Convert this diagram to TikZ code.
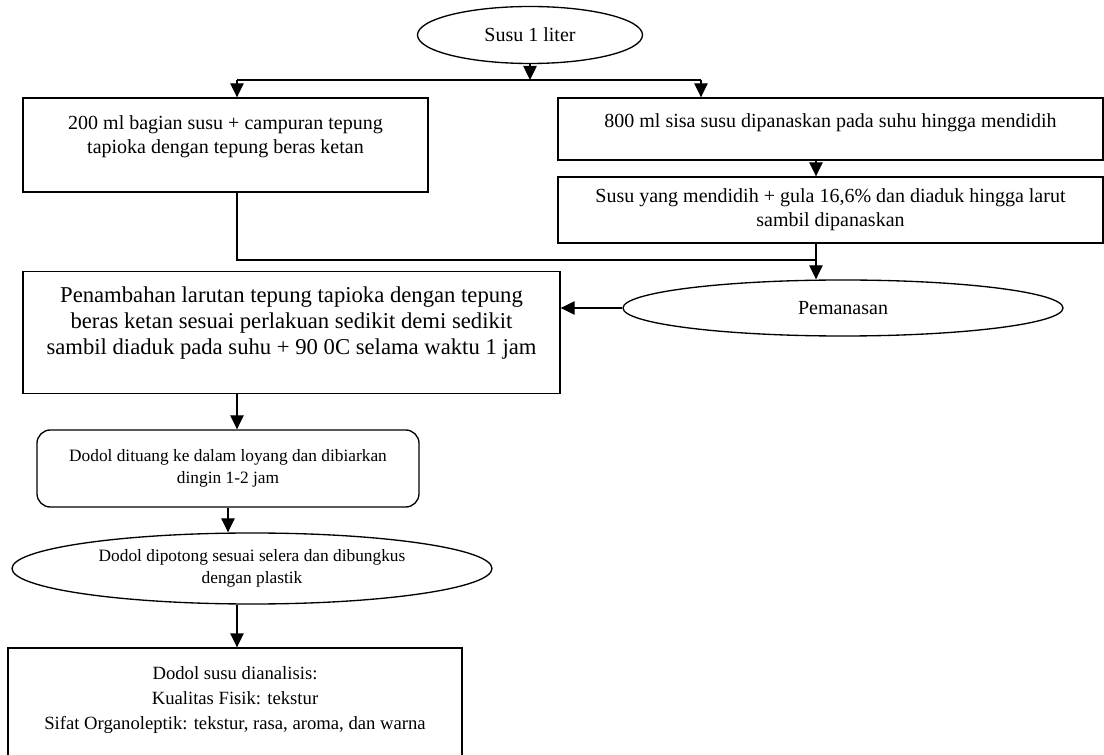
\documentclass[tikz,border=0pt]{standalone}
\usepackage{fontspec}
\setmainfont{Liberation Serif}
\usetikzlibrary{arrows.meta, shapes.geometric}

\begin{document}
\begin{tikzpicture}[x=0.75pt, y=-0.75pt, line width=1pt,
  every node/.style={font=\fontsize{15}{18}\selectfont, align=center, inner sep=0pt},
  box/.style={draw, rectangle},
  oval/.style={draw, ellipse},
  arr/.style={-{Triangle[width=10pt, length=10.5pt]}}]
  \useasboundingbox (0,0) rectangle (1104,755);
  \node[oval, minimum width=168.75pt, minimum height=42.75pt] (susu) at (530,35) {Susu 1 liter};
  \node[box, minimum width=303.75pt, minimum height=70.5pt] (kiri) at (225.5,145) {200 ml bagian susu + campuran tepung\\tapioka dengan tepung beras ketan\\[-2pt]\mbox{}};
  \node[box, minimum width=408.75pt, minimum height=46.5pt] (panas) at (830.5,129) {800 ml sisa susu dipanaskan pada suhu hingga mendidih\\[-6pt]\mbox{}};
  \node[box, minimum width=408.75pt, minimum height=49.5pt] (gula) at (830.5,210) {Susu yang mendidih + gula 16,6\% dan diaduk hingga larut\\sambil dipanaskan};
  \node[oval, minimum width=330pt, minimum height=42pt] (pemanasan) at (843,308) {Pemanasan};
  \node[box, minimum width=402.75pt, minimum height=91.5pt, font=\fontsize{17}{19.5}\selectfont] (tambah) at (291.5,332.5) {Penambahan larutan tepung tapioka dengan tepung\\beras ketan sesuai perlakuan sedikit demi sedikit\\sambil diaduk pada suhu + 90 0C selama waktu 1 jam\\[-2pt]\mbox{}};
  \node[box, rounded corners=10pt, minimum width=286.5pt, minimum height=57.75pt, font=\fontsize{13}{16.5}\selectfont] (tuang) at (228,468.5) {Dodol dituang ke dalam loyang dan dibiarkan\\dingin 1-2 jam};
  \node[oval, minimum width=360pt, minimum height=53.25pt, font=\fontsize{13}{17}\selectfont] (potong) at (252,568.5) {Dodol dipotong sesuai selera dan dibungkus\\dengan plastik};
  \node[box, minimum width=340.5pt, minimum height=95.25pt, font=\fontsize{14}{18.75}\selectfont] (analisis) at (235,711.5) {Dodol susu dianalisis:\\Kualitas Fisik: tekstur\\Sifat Organoleptik: tekstur, rasa, aroma, dan warna\\[2pt]\mbox{}};
  \coordinate (sl) at (237,80);
  \coordinate (sr) at (701,80);
  \coordinate (jn) at (816,260);
  \draw[arr] (susu.south) -- (susu.south |- sl);
  \draw (sl) -- (sr);
  \draw[arr] (sl) -- (sl |- kiri.north);
  \draw[arr] (sr) -- (sr |- panas.north);
  \draw[arr] (jn |- panas.south) -- (jn |- gula.north);
  \draw[arr] (jn |- gula.south) -- (jn |- pemanasan.north);
  \draw (sl |- kiri.south) |- (jn);
  \draw[arr] (pemanasan.west) -- (pemanasan.west -| tambah.east);
  \draw[arr] (sl |- tambah.south) -- (sl |- tuang.north);
  \draw[arr] (tuang.south) -- (tuang.south |- potong.north);
  \draw[arr] (sl |- potong.south) -- (sl |- analisis.north);
\end{tikzpicture}
\end{document}
